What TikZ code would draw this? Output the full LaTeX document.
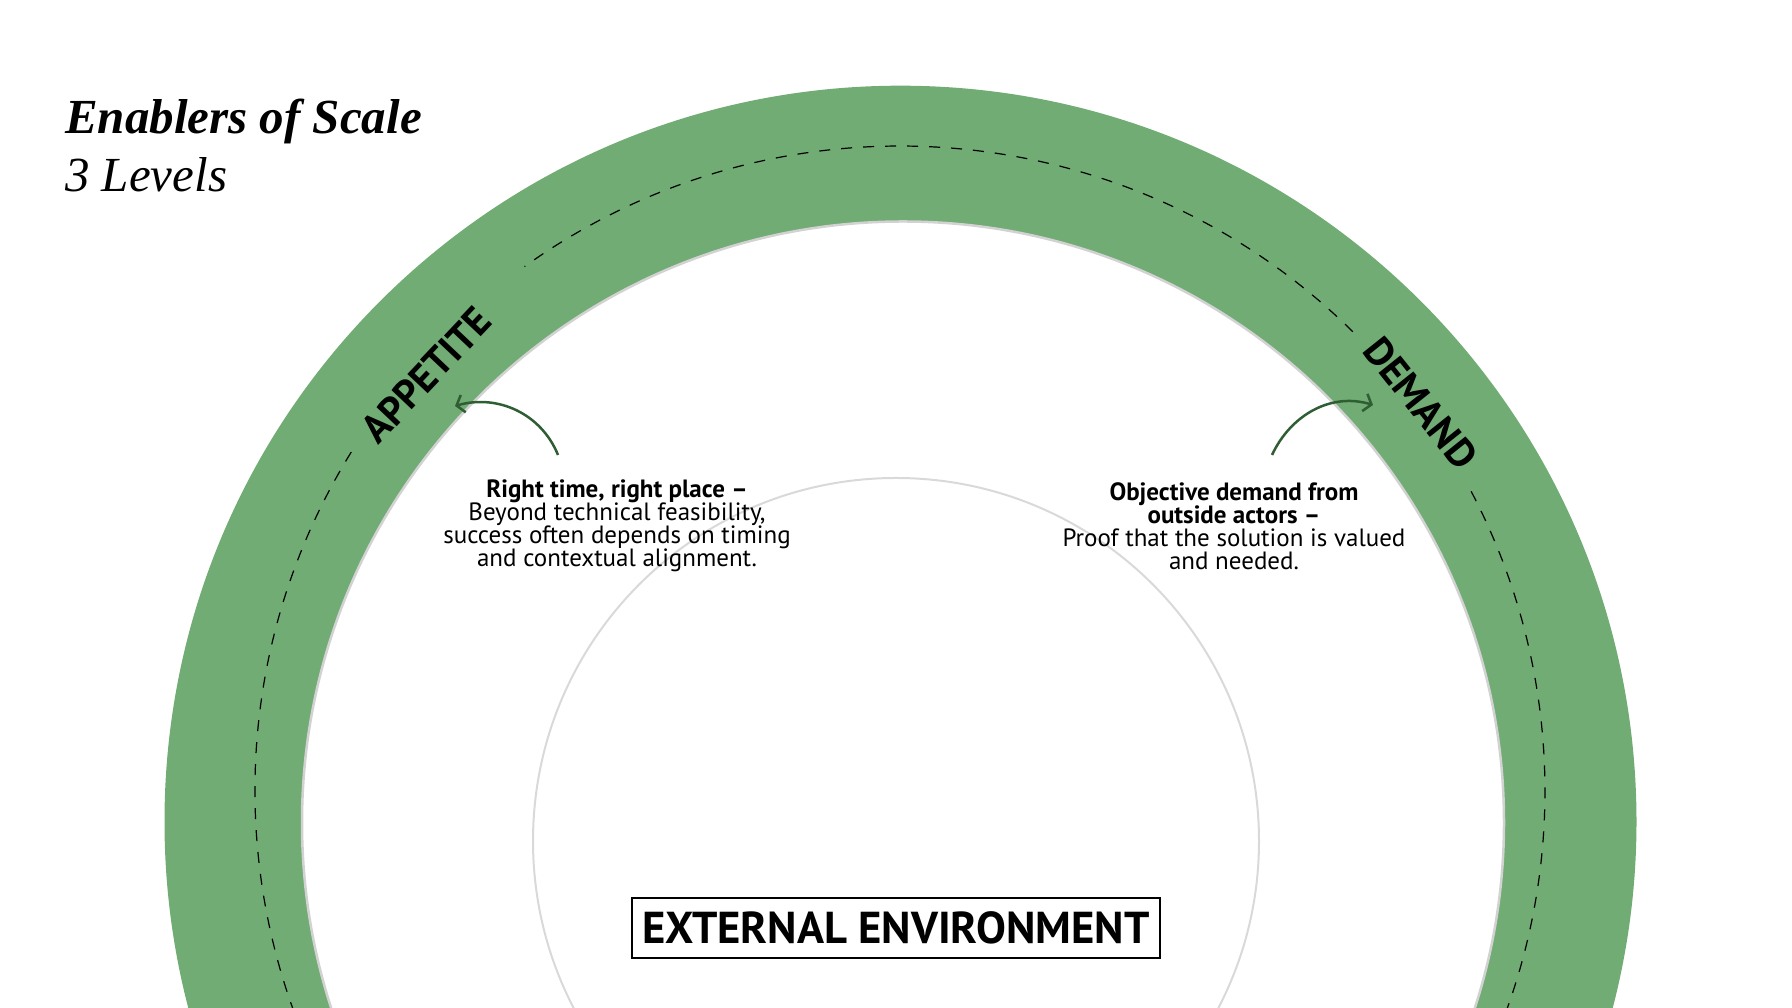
\documentclass[tikz,border=0pt]{standalone}
\usepackage{fontspec}
\setmainfont{Liberation Serif}
\setsansfont{PT Sans}
\usetikzlibrary{arrows.meta}
\definecolor{ringgreen}{RGB}{112,172,115}
\definecolor{arrowgreen}{RGB}{47,94,51}

\begin{document}
\begin{tikzpicture}[x=1pt, y=1pt,
    title/.style = {anchor=base west, inner sep=0pt, font=\fontsize{49}{49}\selectfont\itshape},
    ringlabel/.style = {inner sep=0pt, font=\sffamily\bfseries\fontsize{40}{40}\selectfont},
    note/.style = {anchor=north, align=center, inner sep=0pt, font=\sffamily\fontsize{25}{23}\selectfont},
    pointer/.style = {draw=arrowgreen, line width=2.5pt, -{Straight Barb[length=7pt,width=18pt]}},
    guide/.style = {draw=black, line width=1.2pt, dash pattern=on 11pt off 11pt},
    envbox/.style = {draw, line width=2pt, inner sep=0pt, minimum width=528pt, minimum height=60pt,
                     font=\sffamily\bfseries\fontsize{44.7}{44.7}\selectfont}]
            \useasboundingbox (0,0) rectangle (1792,1008);
            \clip (0,0) rectangle (1792,1008);

            % green ring
            \fill[ringgreen, even odd rule] (900.5,186.3) circle (736) (903,185.5) circle (601);
            \draw[gray!35, line width=2.5pt] (903,185.5) circle (601);

            % dashed guide, broken at the two labels
            \coordinate (guidec) at (900,217);
            \draw[guide] (guidec) ++(148.3:645) arc[start angle=148.3, end angle=387.7, radius=645];
            \draw[guide] (guidec) ++(45.4:645) arc[start angle=45.4, end angle=125.6, radius=645];

            % inner circle
            \draw[gray!30, line width=2pt] (896,167) circle (363);

            \node[title, font=\fontsize{49}{49}\selectfont\itshape\bfseries] (heading) at (65,874) {Enablers of Scale};
            \node[title] (levels) at (65,816) {3 Levels};

            \node[ringlabel, rotate=46.6] (appetite) at (426,633) {APPETITE};
            \node[ringlabel, rotate=-51.4] (demand) at (1421,605) {DEMAND};

            \node[note] (timing) at (617,528) {\textbf{Right time, right place –}\\Beyond technical feasibility,\\success often depends on timing\\and contextual alignment.};
            \node[note] (proof) at (1234,526) {\textbf{Objective demand from}\\\textbf{outside actors –}\\Proof that the solution is valued\\and needed.};

            \coordinate (apptail) at (558,553);
            \coordinate (apphead) at (455,602);
            \coordinate (demtail) at (1272,553);
            \coordinate (demhead) at (1373,603);
            \draw[pointer] (apptail) to[out=112, in=16] (apphead);
            \draw[pointer] (demtail) to[out=65, in=163] (demhead);

            \node[envbox] (external) at (896,80) {EXTERNAL ENVIRONMENT};
        \end{tikzpicture}
\end{document}
